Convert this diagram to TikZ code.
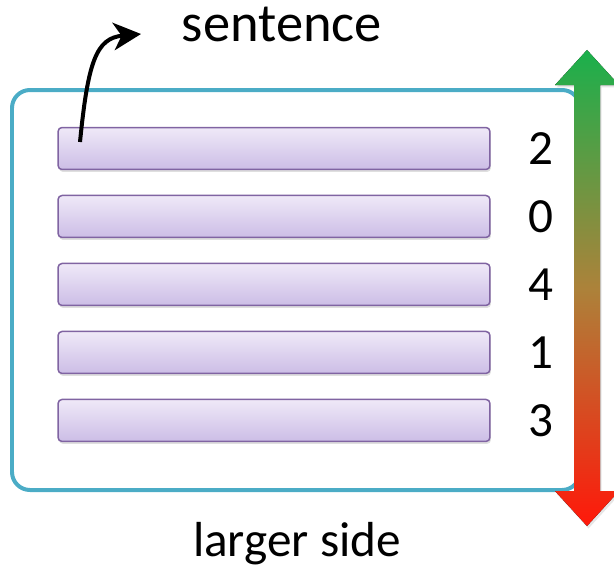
\documentclass[tikz,border=0pt]{standalone}
\usepackage{fontspec}
\setmainfont{Carlito}
\usepackage{xcolor}
\usetikzlibrary{arrows.meta,shadows,positioning}
\definecolor{boxblue}{RGB}{75,172,198}
\definecolor{barline}{RGB}{128,100,162}
\definecolor{bartop}{RGB}{239,233,248}
\definecolor{barbot}{RGB}{204,189,230}
\definecolor{upgreen}{RGB}{26,176,76}
\definecolor{midbrown}{RGB}{172,130,58}
\definecolor{downred}{RGB}{255,24,10}
\tikzset{
  sent/.style={draw=barline, line width=0.03cm, rounded corners=0.08cm,
    top color=bartop, bottom color=barbot, minimum width=8.64cm, minimum height=0.84cm,
    inner sep=0pt, drop shadow={shadow xshift=0.02cm, shadow yshift=-0.05cm, opacity=0.25}},
  rank/.style={font=\fontsize{28}{32}\selectfont, inner sep=0pt}
}
\begin{document}
\begin{tikzpicture}[x=0.02cm, y=-0.02cm]
                \useasboundingbox (0,0) rectangle (614,571);

                \draw[boxblue, line width=0.08cm, rounded corners=0.36cm] (12,90) rectangle (580,490);

                \node[sent] (bar1) at (274,148.5) {};
                \node[sent, below=0.49cm of bar1] (bar2) {};
                \node[sent, below=0.49cm of bar2] (bar3) {};
                \node[sent, below=0.49cm of bar3] (bar4) {};
                \node[sent, below=0.49cm of bar4] (bar5) {};

                \node[rank, right=0.74cm of bar1] (r1) {2};
                \node[rank, right=0.74cm of bar2] (r2) {0};
                \node[rank, right=0.74cm of bar3] (r3) {4};
                \node[rank, right=0.74cm of bar4] (r4) {1};
                \node[rank, right=0.74cm of bar5] (r5) {3};

                \node[rank, font=\fontsize{31}{36}\selectfont] (word) at (282,24) {sentence};
                \node[rank] (side) at (297,544) {larger side};

                \coordinate (tail) at (80,142);
                \coordinate (head) at (141,34);
                \draw[line width=0.08cm, -{Stealth[length=0.55cm, width=0.55cm, inset=0.16cm]}]
                    (tail) .. controls (88,62) and (96,38) .. (head);

                \fill[drop shadow={shadow xshift=0.03cm, shadow yshift=-0.05cm, opacity=0.2},
                      top color=upgreen, bottom color=downred, middle color=midbrown]
                    (587,50) -- (619,85) -- (600,85) -- (600,491) -- (619,491) -- (587,526)
                    -- (555,491) -- (574,491) -- (574,85) -- (555,85) -- cycle;
            \end{tikzpicture}
\end{document}
